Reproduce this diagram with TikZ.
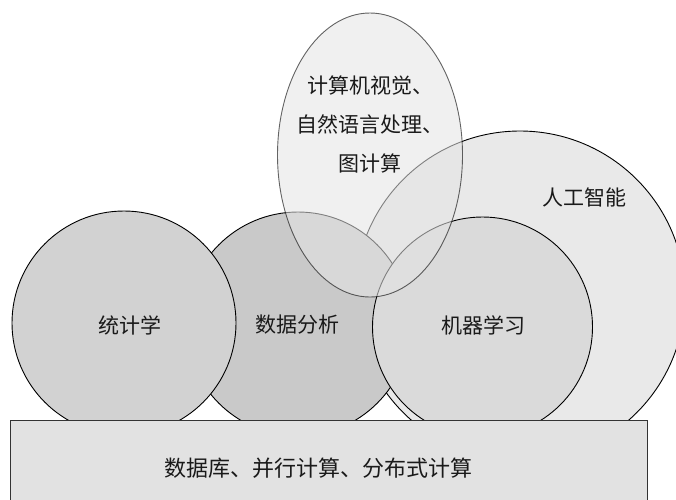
\documentclass[tikz,border=0pt]{standalone}
\usepackage{fontspec}
\newfontfamily\cjk{Noto Sans CJK SC}
\usetikzlibrary{shapes.geometric}
\definecolor{aifill}{HTML}{E9E9E9}
\definecolor{dafill}{HTML}{C9C9C9}
\definecolor{stfill}{HTML}{D2D2D2}
\definecolor{mlfill}{HTML}{DADADA}
\definecolor{cvfill}{HTML}{E4E4E4}
\definecolor{basefill}{HTML}{E2E2E2}
\definecolor{txt}{HTML}{1A1A1A}
\begin{document}
\begin{tikzpicture}[x=1pt,y=-1pt]
\tikzset{
  disc/.style={circle, draw=black, line width=0.9pt, inner sep=0pt},
  lbl/.style={font=\cjk\fontsize{21}{39}\selectfont, text=txt, align=center, inner sep=0pt},
}
\useasboundingbox (0,0) rectangle (676,499);
\begin{scope}
\clip (0,0) rectangle (676,499);
\node[disc, fill=aifill, minimum size=330pt] (ai) at (520,296) {};
\node[disc, fill=dafill, minimum size=224pt] (da) at (298,324) {};
\node[disc, fill=stfill, minimum size=224pt] (st) at (124,323) {};
\node[disc, fill=mlfill, minimum size=220pt] (ml) at (482.5,327) {};
\node[ellipse, draw=black, draw opacity=0.6, line width=0.9pt, fill=cvfill, fill opacity=0.56, minimum width=185pt, minimum height=284pt, inner sep=0pt] (cv) at (370,155) {};
\node[rectangle, draw=black!80, line width=0.9pt, fill=basefill, minimum width=637pt, minimum height=100pt, anchor=north west, inner sep=0pt] (base) at (10,420) {};
\end{scope}
\node[lbl] (stt) at (130,325) {统计学};
\node[lbl] (dat) at (297,325) {数据分析};
\node[lbl] (mlt) at (483,325) {机器学习};
\node[lbl] (ait) at (584,197) {人工智能};
\node[lbl] (cvt) at (370,124) {计算机视觉、\\自然语言处理、\\图计算};
\node[lbl, font=\cjk\fontsize{22}{26}\selectfont] (baset) at (318,468) {数据库、并行计算、分布式计算};
\end{tikzpicture}
\end{document}
